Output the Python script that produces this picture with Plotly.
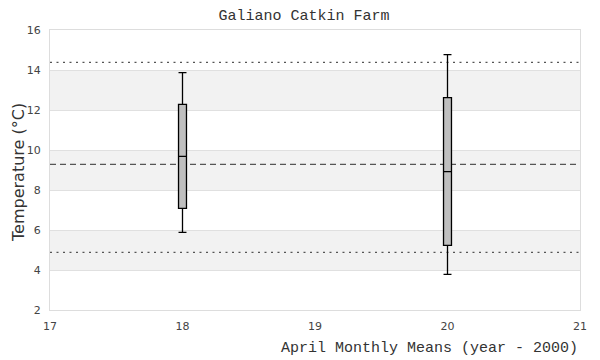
import plotly.graph_objects as go

years = [18, 20]
lower_whisker = [5.88, 3.78]
q1_vals = [7.08, 5.23]
medians = [9.68, 8.92]
q3_vals = [12.28, 12.62]
upper_whisker = [13.87, 14.77]

mean_line = 9.28
lower_limit = 4.88
upper_limit = 14.38
band_ranges = [(4, 6), (8, 10), (12, 14)]

x_ticks = [17, 18, 19, 20, 21]
y_ticks = [2, 4, 6, 8, 10, 12, 14, 16]

mono = "Liberation Mono"
sans = "DejaVu Sans"

fig = go.Figure()
for i, yr in enumerate(years):
    fig.add_trace(go.Box(
        x=[yr], q1=[q1_vals[i]], median=[medians[i]], q3=[q3_vals[i]],
        lowerfence=[lower_whisker[i]], upperfence=[upper_whisker[i]],
        fillcolor="#bfbfbf", line=dict(color="black", width=1.3),
        width=0.06, whiskerwidth=1, showlegend=False, boxpoints=False,
        hoverinfo="skip"))

shapes = []
for lo, hi in band_ranges:
    shapes.append(dict(type="rect", xref="paper", yref="y", x0=0, x1=1, y0=lo, y1=hi,
                       fillcolor="#f2f2f2", line=dict(width=0), layer="below"))
for val, dash in [(upper_limit, "2px,4.5px"), (lower_limit, "2px,4.5px"), (mean_line, "6px,4px")]:
    shapes.append(dict(type="line", xref="paper", yref="y", x0=0, x1=1, y0=val, y1=val,
                       line=dict(color="#555555", width=1.2, dash=dash), layer="below"))

fig.update_layout(
    width=592, height=352,
    margin=dict(l=42, r=20, t=22, b=50),
    paper_bgcolor="white", plot_bgcolor="white",
    title=dict(text="Galiano Catkin Farm", x=0.5, xanchor="center", y=0.98, yanchor="middle",
               font=dict(family=mono, size=15, color="#333333")),
    shapes=shapes,
    xaxis=dict(range=[17, 21], tickvals=x_ticks, ticktext=[str(t) for t in x_ticks],
               showgrid=False, zeroline=False, showline=True, linecolor="#dddddd", mirror=True,
               ticks="", ticklabelstandoff=6, automargin=False,
               tickfont=dict(family=sans, size=11, color="#444444")),
    yaxis=dict(range=[2, 16], tickvals=y_ticks, ticktext=[str(t) for t in y_ticks],
               showgrid=True, gridcolor="#e0e0e0", zeroline=False, showline=True,
               linecolor="#dddddd", mirror=True, ticks="", ticklabelstandoff=6, automargin=False,
               tickfont=dict(family=sans, size=11, color="#444444")),
    annotations=[
        dict(text="April Monthly Means (year - 2000)", xref="paper", yref="paper",
             x=1.0, y=-0.136, xanchor="right", yanchor="middle", showarrow=False,
             font=dict(family=mono, size=15, color="#333333")),
        dict(text="Temperature (°C)", xref="paper", yref="paper", textangle=-90,
             x=-0.0585, y=0.493, xanchor="center", yanchor="middle", showarrow=False,
             font=dict(family=sans, size=16, color="#333333")),
    ],
)

fig.write_html("out.html")
